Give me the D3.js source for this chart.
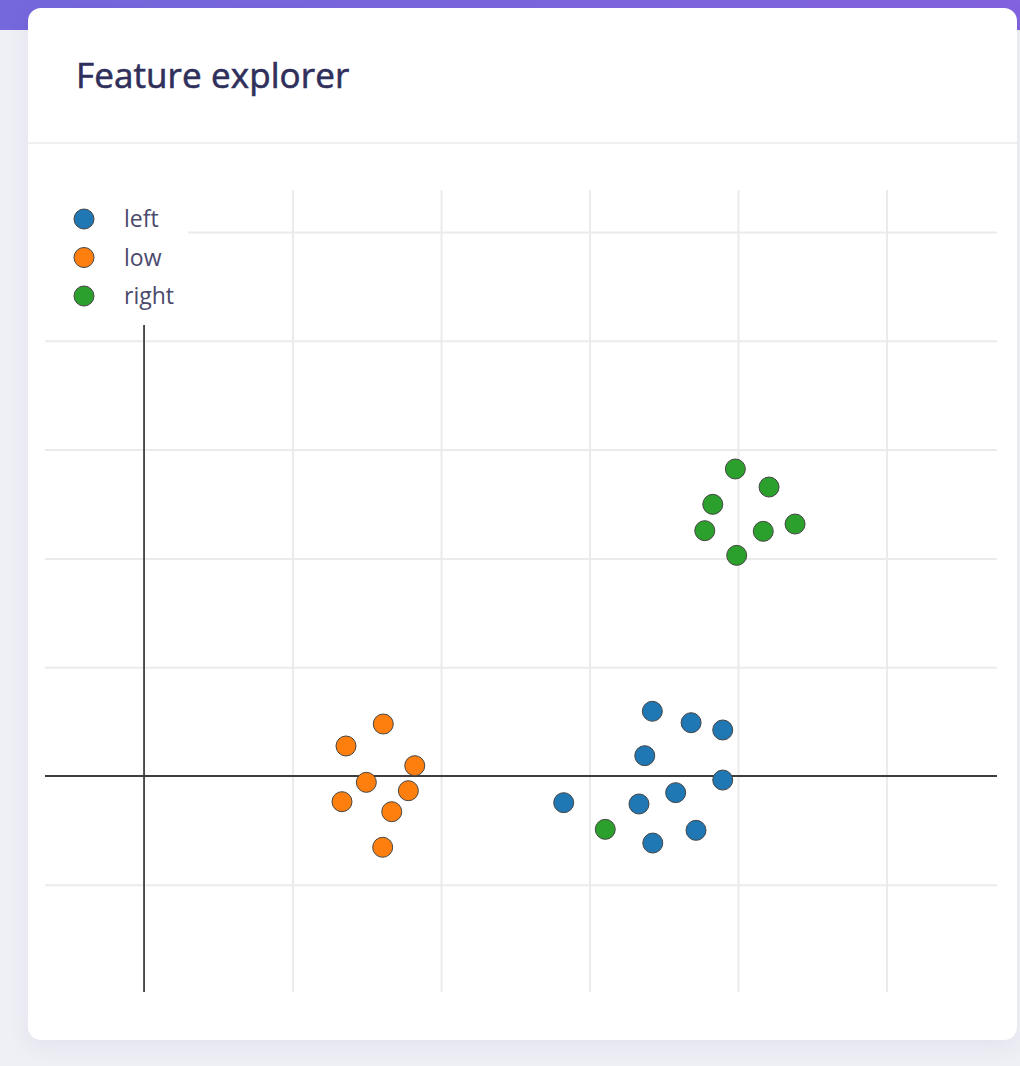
<!DOCTYPE html>
<html>
<head>
<meta charset="utf-8">
<script src="https://cdn.jsdelivr.net/npm/d3@7"></script>
<style>
  html, body { margin:0; padding:0; }
  body { width:1020px; height:1066px; background:#eff0f6; position:relative; overflow:hidden; font-family:"Open Sans","Noto Sans",sans-serif; }
  #band { position:absolute; left:0; top:0; width:1020px; height:30px; background:linear-gradient(90deg,#7468dc,#8363e0); }
  #card { position:absolute; left:28px; top:8px; width:989px; height:1032px; background:#fff; border-radius:13px; box-shadow:0 6px 22px rgba(60,60,110,0.08); }
  #header { position:absolute; left:0; top:0; width:100%; height:134px; border-bottom:2px solid #f0f0f2; }
  #title { position:absolute; left:48px; top:43px; margin:0; font-size:35px; font-weight:400; -webkit-text-stroke:0.6px #2f2f5b; color:#2f2f5b; letter-spacing:0.1px; }
  svg { position:absolute; left:0; top:0; }
</style>
</head>
<body>
<div id="band"></div>
<div id="card"><div id="header"><h1 id="title">Feature explorer</h1></div></div>
<svg id="chart" width="1020" height="1066"></svg>
<script>
const seriesNames = ["left", "low", "right"];
const seriesColors = ["#1f77b4", "#ff7f0e", "#2ca02c"];

const leftX  = [3.423, 3.684, 3.897, 3.372, 3.897, 3.580, 3.333, 2.826, 3.717, 3.426];
const leftY  = [0.595, 0.490, 0.423, 0.187, -0.037, -0.153, -0.257, -0.245, -0.499, -0.616];
const lowX   = [1.611, 1.360, 1.823, 1.497, 1.333, 1.780, 1.668, 1.607];
const lowY   = [0.478, 0.276, 0.095, -0.058, -0.236, -0.135, -0.328, -0.655];
const rightX = [3.106, 3.982, 4.209, 3.830, 3.776, 4.170, 4.384, 3.991];
const rightY = [-0.490, 2.822, 2.656, 2.497, 2.255, 2.249, 2.316, 2.028];

const xTicks = [0, 1, 2, 3, 4, 5];
const yTicks = [-1, 0, 1, 2, 3, 4, 5];

const seriesX = [leftX, lowX, rightX];
const seriesY = [leftY, lowY, rightY];

const plot = { left: 45, right: 997, top: 190, bottom: 992 };
const x = d3.scaleLinear().domain([-0.667, 5.744]).range([plot.left, plot.right]);
const y = d3.scaleLinear().domain([-1.985, 5.386]).range([plot.bottom, plot.top]);

const svg = d3.select("#chart");

// grid
const xGrid = d3.axisBottom(x).tickValues(xTicks.filter(d => d !== 0)).tickSize(-(plot.bottom - plot.top)).tickFormat("");
svg.append("g").attr("transform", `translate(0,${plot.bottom})`).call(xGrid)
  .call(g => g.select(".domain").remove())
  .call(g => g.selectAll(".tick line").attr("stroke", "#ebebeb").attr("stroke-width", 2));
const yGrid = d3.axisLeft(y).tickValues(yTicks.filter(d => d !== 0)).tickSize(-(plot.right - plot.left)).tickFormat("");
svg.append("g").attr("transform", `translate(${plot.left},0)`).call(yGrid)
  .call(g => g.select(".domain").remove())
  .call(g => g.selectAll(".tick line").attr("stroke", "#ebebeb").attr("stroke-width", 2));

// zero lines
svg.append("line").attr("x1", plot.left).attr("x2", plot.right).attr("y1", y(0)).attr("y2", y(0))
  .attr("stroke", "#3d3d3d").attr("stroke-width", 1.8);
svg.append("line").attr("x1", x(0)).attr("x2", x(0)).attr("y1", plot.top).attr("y2", plot.bottom)
  .attr("stroke", "#3d3d3d").attr("stroke-width", 1.8);

// legend
const lg = svg.append("g");
lg.append("rect").attr("x", plot.left).attr("y", plot.top).attr("width", 143).attr("height", 135).attr("fill", "#fff");
seriesNames.forEach((name, i) => {
  const cy = 219 + i * 38.5;
  lg.append("circle").attr("cx", 84).attr("cy", cy).attr("r", 10)
    .attr("fill", seriesColors[i]).attr("stroke", "#444").attr("stroke-width", 1);
  lg.append("text").attr("x", 124).attr("y", cy + 8).text(name)
    .attr("font-family", "'Open Sans','Noto Sans',sans-serif").attr("font-size", 23).attr("fill", "#4a4a6c");
});

// points
seriesNames.forEach((name, i) => {
  const data = seriesX[i].map((v, j) => [v, seriesY[i][j]]);
  svg.append("g").selectAll("circle").data(data).join("circle")
    .attr("cx", d => x(d[0])).attr("cy", d => y(d[1])).attr("r", 10)
    .attr("fill", seriesColors[i]).attr("stroke", "#444").attr("stroke-width", 1);
});
</script>
</body>
</html>
